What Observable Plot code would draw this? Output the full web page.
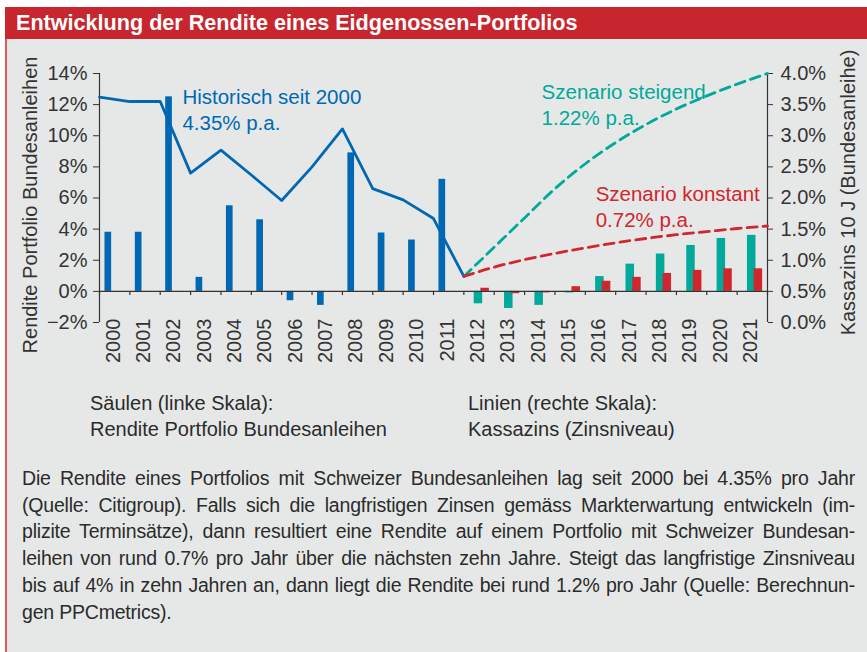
<!DOCTYPE html>
<html>
<head>
<meta charset="utf-8">
<script src="https://cdn.jsdelivr.net/npm/d3@7"></script>
<script src="https://cdn.jsdelivr.net/npm/@observablehq/plot@0.6"></script>
<style>
  html, body { margin: 0; padding: 0; background: #ffffff; }
  #wrap { position: relative; width: 867px; height: 652px; overflow: hidden; font-family: "Liberation Sans", Arial, sans-serif; }
  #band { position: absolute; left: 5px; top: 7px; width: 862px; height: 32px; background: #c8262e; }
  #title { position: absolute; left: 16px; top: 7px; line-height: 32px; font-size: 21.6px; font-weight: bold; color: #ffffff; white-space: nowrap; }
  #panel { position: absolute; left: 5px; top: 39px; width: 862px; height: 613px; background: #e6e8e7; border-left: 2px solid #dc5a60; box-sizing: border-box; }
  #chart { position: absolute; left: 0; top: 39px; }
  .legend { position: absolute; top: 389.7px; font-size: 20px; line-height: 26.7px; color: #2b2b2b; white-space: nowrap; }
  #body { position: absolute; left: 22px; top: 465px; width: 833px; font-size: 19.5px; letter-spacing: -0.2px; line-height: 26.7px; color: #2b2b2b; }
  #body div { white-space: nowrap; text-align: justify; text-align-last: justify; }
  #body div.last { text-align-last: left; }
</style>
</head>
<body>
<div id="wrap">
  <div id="band"></div>
  <div id="title">Entwicklung der Rendite eines Eidgenossen-Portfolios</div>
  <div id="panel"></div>
  <div id="chart"></div>
  <div class="legend" style="left:90px">Säulen (linke Skala):<br>Rendite Portfolio Bundesanleihen</div>
  <div class="legend" style="left:468px">Linien (rechte Skala):<br>Kassazins (Zinsniveau)</div>
  <div id="body"></div>
</div>
<script>
// ---- data ----
const histYears = [2000, 2001, 2002, 2003, 2004, 2005, 2006, 2007, 2008, 2009, 2010, 2011];
const histReturns = [3.8, 3.8, 12.5, 0.9, 5.5, 4.6, -0.6, -0.9, 8.9, 3.75, 3.3, 7.2];

const scenYears = [2012, 2013, 2014, 2015, 2016, 2017, 2018, 2019, 2020, 2021];
const risingReturns = [-0.8, -1.1, -0.9, -0.1, 0.95, 1.75, 2.4, 2.95, 3.4, 3.6];
const constantReturns = [0.2, -0.15, -0.1, 0.3, 0.65, 0.9, 1.15, 1.35, 1.45, 1.45];

const histRateYears = [2000, 2001, 2002, 2003, 2004, 2005, 2006, 2007, 2008, 2009, 2010, 2011, 2012];
const histRates = [3.62, 3.55, 3.55, 2.40, 2.77, 2.37, 1.96, 2.50, 3.11, 2.15, 1.97, 1.67, 0.74];

const scenRateYears = [2012, 2013, 2014, 2015, 2016, 2017, 2018, 2019, 2020, 2021, 2022];
const risingRates = [0.74, 1.21, 1.68, 2.15, 2.55, 2.89, 3.18, 3.43, 3.64, 3.83, 4.0];
const constantRates = [0.74, 0.89, 1.01, 1.11, 1.20, 1.28, 1.35, 1.41, 1.46, 1.51, 1.55];

const yearBoundaries = [2000, 2001, 2002, 2003, 2004, 2005, 2006, 2007, 2008, 2009, 2010, 2011,
                        2012, 2013, 2014, 2015, 2016, 2017, 2018, 2019, 2020, 2021, 2022];
const xLabels = ["2000", "2001", "2002", "2003", "2004", "2005", "2006", "2007", "2008", "2009", "2010",
                 "2011", "2012", "2013", "2014", "2015", "2016", "2017", "2018", "2019", "2020", "2021"];
const leftTicks = [-2, 0, 2, 4, 6, 8, 10, 12, 14];
const rightTicks = [0, 0.5, 1.0, 1.5, 2.0, 2.5, 3.0, 3.5, 4.0];

const leftTitle = "Rendite Portfolio Bundesanleihen";
const rightTitle = "Kassazins 10 J (Bundesanleihe)";
const annotations = [
  {text: "Historisch seit 2000\n4.35% p.a.", year: 2002.73, value: 13.23, color: "#0068b3"},
  {text: "Szenario steigend\n1.22% p.a.", year: 2014.56, value: 13.55, color: "#00a99a"},
  {text: "Szenario konstant\n0.72% p.a.", year: 2016.34, value: 7.02, color: "#d0262e"}
];

const bodyLines = [
  "Die Rendite eines Portfolios mit Schweizer Bundesanleihen lag seit 2000 bei 4.35% pro Jahr",
  "(Quelle: Citigroup). Falls sich die langfristigen Zinsen gemäss Markterwartung entwickeln (im-",
  "plizite Terminsätze), dann resultiert eine Rendite auf einem Portfolio mit Schweizer Bundesan-",
  "leihen von rund 0.7% pro Jahr über die nächsten zehn Jahre. Steigt das langfristige Zinsniveau",
  "bis auf 4% in zehn Jahren an, dann liegt die Rendite bei rund 1.2% pro Jahr (Quelle: Berechnun-",
  "gen PPCmetrics)."
];

// ---- build ----
const BLUE = "#0068b3", TEAL = "#00a99a", RED = "#d0262e", AXIS = "#333333";
const rateToLeft = r => 4 * r - 2;   // right scale (0–4%) mapped onto left scale (−2–14%)
const pct = d => (d < 0 ? "\u2212" : "") + Math.abs(d) + "%";

const hist = histYears.map((year, i) => ({year, value: histReturns[i]}));
const rising = scenYears.map((year, i) => ({year, value: risingReturns[i]}));
const constant = scenYears.map((year, i) => ({year, value: constantReturns[i]}));
const histRateData = histRateYears.map((year, i) => ({year, rate: histRates[i]}));
const risingRateData = scenRateYears.map((year, i) => ({year, rate: risingRates[i]}));
const constantRateData = scenRateYears.map((year, i) => ({year, rate: constantRates[i]}));

const chart = Plot.plot({
  width: 867,
  height: 330,
  marginTop: 34,
  marginBottom: 47,
  marginLeft: 99,
  marginRight: 100,
  x: {domain: [2000, 2022], axis: null},
  y: {domain: [-2, 14]},
  style: {background: "none", fontFamily: "'Liberation Sans', Arial, sans-serif", fontSize: "20px", color: AXIS, overflow: "visible"},
  marks: [
    Plot.rect(hist, {x1: d => d.year + 0.18, x2: d => d.year + 0.40, y1: 0, y2: "value", fill: BLUE}),
    Plot.rect(rising, {x1: d => d.year + 0.34, x2: d => d.year + 0.62, y1: 0, y2: "value", fill: TEAL}),
    Plot.rect(constant, {x1: d => d.year + 0.56, x2: d => d.year + 0.84, y1: 0, y2: "value", fill: RED}),
    Plot.ruleY([0], {x1: 2000, x2: 2022, stroke: AXIS, strokeWidth: 1.2}),
    Plot.ruleX(yearBoundaries, {x: d => d, y1: 0, y2: -0.27, stroke: AXIS, strokeWidth: 1.2}),
    Plot.ruleX([2000, 2022], {x: d => d, y1: -2, y2: 14, stroke: AXIS, strokeWidth: 1.2}),
    Plot.axisY({anchor: "left", ticks: leftTicks, tickSize: 6, tickPadding: 6, tickFormat: pct, label: null, fontSize: 20}),
    Plot.axisY({anchor: "right", ticks: rightTicks.map(rateToLeft), tickSize: 5, tickPadding: 8,
                tickFormat: d => ((d + 2) / 4).toFixed(1) + "%", label: null, fontSize: 20}),
    Plot.text(xLabels, {x: d => +d + 0.45, y: -2, dy: -4, rotate: -90, textAnchor: "end", lineAnchor: "middle", fontSize: 20, fill: AXIS}),
    Plot.line(histRateData, {x: "year", y: d => rateToLeft(d.rate), stroke: BLUE, strokeWidth: 2.8}),
    Plot.line(risingRateData, {x: "year", y: d => rateToLeft(d.rate), stroke: TEAL, strokeWidth: 2.8, strokeDasharray: "10,6", curve: "monotone-x"}),
    Plot.line(constantRateData, {x: "year", y: d => rateToLeft(d.rate), stroke: RED, strokeWidth: 2.8, strokeDasharray: "10,6", curve: "monotone-x"}),
    Plot.text(annotations, {x: "year", y: "value", text: "text", fill: "color", textAnchor: "start", lineAnchor: "top", lineHeight: 1.27, fontSize: 20.5}),
    Plot.text([leftTitle], {frameAnchor: "left", dx: -69, dy: 7, rotate: -90, textAnchor: "middle", lineAnchor: "middle", fontSize: 20, fill: AXIS}),
    Plot.text([rightTitle], {frameAnchor: "right", dx: 81, dy: -5.5, rotate: -90, textAnchor: "middle", lineAnchor: "middle", fontSize: 20, fill: AXIS})
  ]
});
document.getElementById("chart").appendChild(chart);

const body = document.getElementById("body");
bodyLines.forEach((t, i) => {
  const div = document.createElement("div");
  div.textContent = t;
  if (i === bodyLines.length - 1) div.className = "last";
  body.appendChild(div);
});
</script>
</body>
</html>
